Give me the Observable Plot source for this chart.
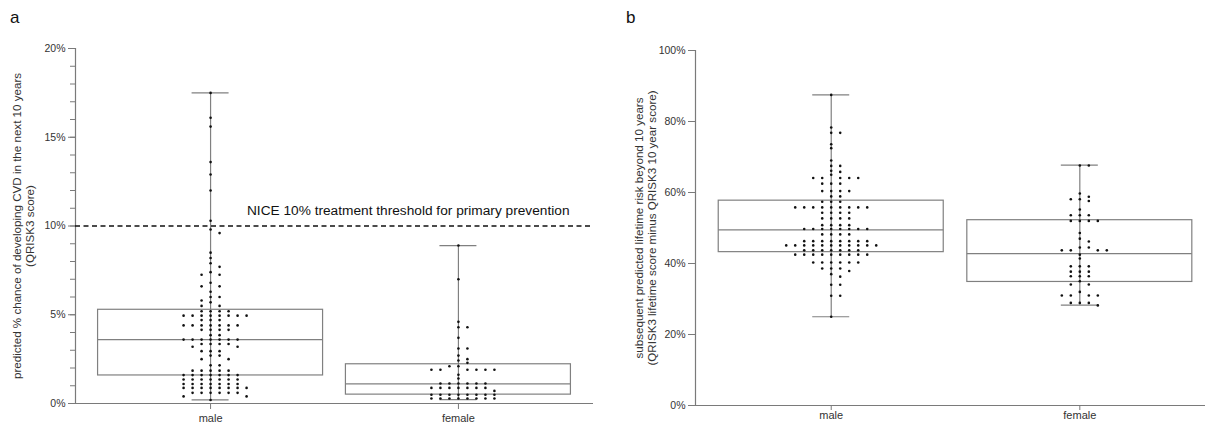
<!DOCTYPE html>
<html><head><meta charset="utf-8">
<script src="https://cdn.jsdelivr.net/npm/d3@7"></script>
<script src="https://cdn.jsdelivr.net/npm/@observablehq/plot@0.6"></script>
<style>
body{margin:0;background:#fff;font-family:"Liberation Sans",Arial,sans-serif;}
#wrap{position:relative;width:1205px;height:425px;overflow:hidden;background:#fff;}
.panel{position:absolute;top:0;}
.tag{position:absolute;font-size:17px;color:#111;line-height:1;}
</style></head><body>
<div id="wrap">
<div id="pa" class="panel" style="left:0"></div>
<div id="pb" class="panel" style="left:600px"></div>
<div class="tag" style="left:10px;top:9px">a</div>
<div class="tag" style="left:626px;top:9px">b</div>
</div>
<script>
// ---------- data ----------
const groups = ["male", "female"];

// panel a: predicted 10-year CVD risk (%)
const cvdMale = [17.5, 16.1, 15.6, 13.6, 12.9, 12.0, 10.3, 9.8, 9.6, 8.5, 8.2, 7.9, 7.7, 7.4, 7.25, 7.25,
  6.8, 6.6, 6.6, 6.3, 6.0, 6.0, 5.8, 5.7, 5.5, 5.5,
  5.2, 5.2, 5.2, 5.2,
  4.95, 4.95, 4.95, 4.95, 4.95, 4.95, 4.95, 4.95,
  4.7, 4.7, 4.7,
  4.4, 4.4, 4.4, 4.4, 4.4, 4.4, 4.4,
  4.15, 4.15, 4.15, 4.15,
  3.85, 3.85,
  3.6, 3.6, 3.6, 3.6, 3.6, 3.6, 3.6,
  3.35, 3.35, 3.35, 3.35,
  3.2, 3.2,
  2.95, 2.95, 2.95,
  2.7, 2.7,
  2.5, 2.5,
  2.15, 2.15,
  1.85, 1.85, 1.85, 1.85, 1.85,
  1.6, 1.6, 1.6, 1.6, 1.6, 1.6, 1.6,
  1.35, 1.35, 1.35, 1.35, 1.35, 1.35, 1.35,
  1.1, 1.1, 1.1, 1.1, 1.1, 1.1, 1.1,
  0.88, 0.88, 0.88, 0.88, 0.88, 0.88, 0.88, 0.88,
  0.6, 0.6, 0.6, 0.6, 0.6, 0.6,
  0.4, 0.4,
  0.2];
const cvdFemale = [8.9, 7.0, 4.6, 4.3, 4.3, 3.7, 3.1, 3.1, 2.7, 2.5, 2.42, 2.29, 2.1, 2.1,
  1.9, 1.9, 1.9, 1.9, 1.9, 1.9,
  1.62, 1.41,
  1.13, 1.13, 1.13, 1.13, 1.13, 1.13,
  0.88, 0.88, 0.88, 0.88, 0.88, 0.88, 0.88,
  0.71,
  0.49, 0.49, 0.49, 0.49, 0.49, 0.49, 0.49, 0.49,
  0.28, 0.28, 0.28, 0.28, 0.28, 0.28, 0.28, 0.28];
const cvdMin = [0.2, 0.22];
const cvdQ1 = [1.58, 0.5];
const cvdMedian = [3.6, 1.11];
const cvdQ3 = [5.28, 2.21];
const cvdMax = [17.5, 8.9];
const cvdTicks = [0, 5, 10, 15, 20];
const cvdMinorTicks = [0, 1, 2, 3, 4, 5, 6, 7, 8, 9, 10, 11, 12, 13, 14, 15, 16, 17, 18, 19, 20];
const niceThreshold = [10];
const niceLabel = "NICE 10% treatment threshold for primary prevention";
const cvdTitle = "predicted % chance of developing CVD in the next 10 years\n(QRISK3 score)";

// panel b: subsequent lifetime risk beyond 10 years (%)
const ltMale = [87.5, 78.3, 76.8, 76.8, 73.6, 72.5, 69.0, 67.5, 67.5, 66.1, 65.8, 65.0,
  64.1, 64.1, 64.1, 64.1, 64.1,
  62.5, 62.5, 62.5,
  60.4, 60.4, 60.4, 60.4,
  58.9, 58.9,
  57.4, 57.4, 57.4,
  55.8, 55.8, 55.8, 55.8, 55.8, 55.8, 55.8, 55.8, 55.8,
  54.3, 54.3, 54.3, 54.3,
  52.7, 52.7, 52.7, 52.7,
  50.8, 50.8, 50.8, 50.8,
  49.7, 49.7, 49.7, 49.7, 49.7, 49.7, 49.7, 49.7,
  48.2, 48.2, 48.2, 48.2,
  46.3, 46.3, 46.3, 46.3, 46.3, 46.3, 46.3, 46.3,
  45.1, 45.1, 45.1, 45.1, 45.1, 45.1, 45.1, 45.1, 45.1, 45.1, 45.1,
  43.7, 43.7, 43.7, 43.7, 43.7, 43.7, 43.7,
  42.5, 42.5, 42.5, 42.5, 42.5, 42.5, 42.5, 42.5, 42.5,
  40.3, 40.3, 40.3, 40.3, 40.3, 40.3,
  38.6, 38.6, 38.6, 37.9, 37.0, 36.3,
  34.0, 34.0, 30.9, 30.9, 25.0];
const ltFemale = [67.6, 67.6, 59.7, 58.8, 58.1, 58.1, 57.6, 55.2,
  53.6, 53.6, 53.6,
  52.0, 52.0, 52.0, 52.0,
  48.6, 47.0, 46.2, 44.5, 44.5,
  43.7, 43.7, 43.7, 43.7,
  42.5, 41.4,
  39.2, 39.2, 39.2,
  37.7, 37.7, 37.7,
  36.4, 36.4, 36.4,
  35.0, 34.1, 34.1, 32.0,
  31.0, 31.0, 31.0, 31.0,
  28.9, 28.9, 28.9, 28.2];
const ltMin = [25.0, 28.3];
const ltQ1 = [43.2, 34.8];
const ltMedian = [49.5, 42.8];
const ltQ3 = [57.7, 52.2];
const ltMax = [87.5, 67.7];
const ltTicks = [0, 20, 40, 60, 80, 100];
const ltTitle = "subsequent predicted lifetime risk beyond 10 years\n(QRISK3 lifetime score minus QRISK3 10 year score)";

// ---------- helpers ----------
function swarm(values, gi, pxPerX, pxPerY) {
  const placed = [];
  const sorted = values.slice().sort((a, b) => b - a);
  for (const v of sorted) {
    const py = v * pxPerY;
    let off = 0;
    for (let k = 0; k < 80; k++) {
      const cand = Math.ceil(k / 2) * (k % 2 ? 1 : -1) * 4.5;
      if (placed.every(p => Math.abs(p.px - cand) >= 8.5 || Math.abs(p.py - py) >= 3.6)) { off = cand; break; }
    }
    placed.push({px: off, py, v});
  }
  return placed.map(p => ({x: gi + p.px / pxPerX, y: p.v}));
}

function stats(mins, q1s, meds, q3s, maxs) {
  return groups.map((g, i) => ({i, g, min: mins[i], q1: q1s[i], median: meds[i], q3: q3s[i], max: maxs[i]}));
}

const font = "'Liberation Sans', Arial, Helvetica, sans-serif";
const lineColor = "#808080";
const axisColor = "#7a7a7a";
const textColor = "#333";

function panel({width, height, mL, mR, mT, mB, xDom, yDom, yTicks, yMinor, yFmt, title, titleDx, series, st, extra, xTickSize, xTickPad}) {
  const pxPerX = (width - mL - mR) / (xDom[1] - xDom[0]);
  const pxPerY = (height - mT - mB) / (yDom[1] - yDom[0]);
  const hw = 112.5 / pxPerX, cw = 18.5 / pxPerX;
  const pts = series.flatMap((vals, i) => swarm(vals, i, pxPerX, pxPerY));
  const marks = [
    Plot.ruleY([yDom[0]], {stroke: axisColor, strokeWidth: 1.2}),
    Plot.ruleX([xDom[0]], {stroke: axisColor, strokeWidth: 1.2}),
    Plot.rect(st, {x1: d => d.i - hw, x2: d => d.i + hw, y1: "q1", y2: "q3", fill: "none", stroke: lineColor, strokeWidth: 1.2}),
    Plot.ruleY(st, {x1: d => d.i - hw, x2: d => d.i + hw, y: "median", stroke: lineColor, strokeWidth: 1.2}),
    Plot.ruleX(st, {x: "i", y1: "min", y2: "max", stroke: lineColor, strokeWidth: 1.2}),
    Plot.ruleY(st, {x1: d => d.i - cw, x2: d => d.i + cw, y: "max", stroke: lineColor, strokeWidth: 1.2}),
    Plot.ruleY(st, {x1: d => d.i - cw, x2: d => d.i + cw, y: "min", stroke: lineColor, strokeWidth: 1.2}),
    ...(extra ? extra() : []),
    Plot.dot(pts, {x: "x", y: "y", r: 1.3, fill: "#111", stroke: null}),
    Plot.axisY({ticks: yTicks, tickFormat: yFmt, tickSize: 7, tickPadding: 3, stroke: axisColor, fill: textColor, fontSize: 10.5, label: null}),
    ...(yMinor ? [Plot.axisY({ticks: yMinor, tickFormat: () => "", tickSize: 5, stroke: axisColor, label: null})] : []),
    Plot.axisX({ticks: [0, 1], tickFormat: i => groups[i], tickSize: xTickSize, tickPadding: xTickPad, stroke: axisColor, fill: textColor, fontSize: 11, label: null}),
    Plot.text([title], {frameAnchor: "left", rotate: -90, dx: titleDx, text: d => d, fontSize: 11.6, lineHeight: 1.12, fill: textColor, textAnchor: "middle"})
  ];
  return Plot.plot({
    width, height,
    marginLeft: mL, marginRight: mR, marginTop: mT, marginBottom: mB,
    style: {fontFamily: font, fontSize: "10.5px", background: "white", overflow: "visible"},
    x: {domain: xDom, axis: null},
    y: {domain: yDom, axis: null},
    marks
  });
}

const stA = stats(cvdMin, cvdQ1, cvdMedian, cvdQ3, cvdMax);
const stB = stats(ltMin, ltQ1, ltMedian, ltQ3, ltMax);

document.getElementById("pa").append(panel({
  width: 600, height: 425, mL: 75, mR: 7, mT: 48, mB: 22,
  xDom: [-0.545, 1.545], yDom: [0, 20],
  yTicks: cvdTicks, yMinor: cvdMinorTicks, yFmt: d => d + "%",
  title: cvdTitle, titleDx: -52,
  series: [cvdMale, cvdFemale], st: stA,
  xTickSize: 6, xTickPad: 5,
  extra: () => [
    Plot.ruleY(niceThreshold, {stroke: "#111", strokeWidth: 1.4, strokeDasharray: "5,3.5"}),
    Plot.text(niceThreshold, {y: d => d, frameAnchor: "right", textAnchor: "end", text: () => niceLabel, dx: -24, dy: -15, fontSize: 13.7, fill: "#111"})
  ]
}));

document.getElementById("pb").append(panel({
  width: 605, height: 425, mL: 95, mR: 0, mT: 50, mB: 20,
  xDom: [-0.546, 1.5056], yDom: [0, 100],
  yTicks: ltTicks, yMinor: null, yFmt: d => d + "%",
  title: ltTitle, titleDx: -50,
  series: [ltMale, ltFemale], st: stB,
  xTickSize: 5, xTickPad: 1
}));
</script>
</body></html>
